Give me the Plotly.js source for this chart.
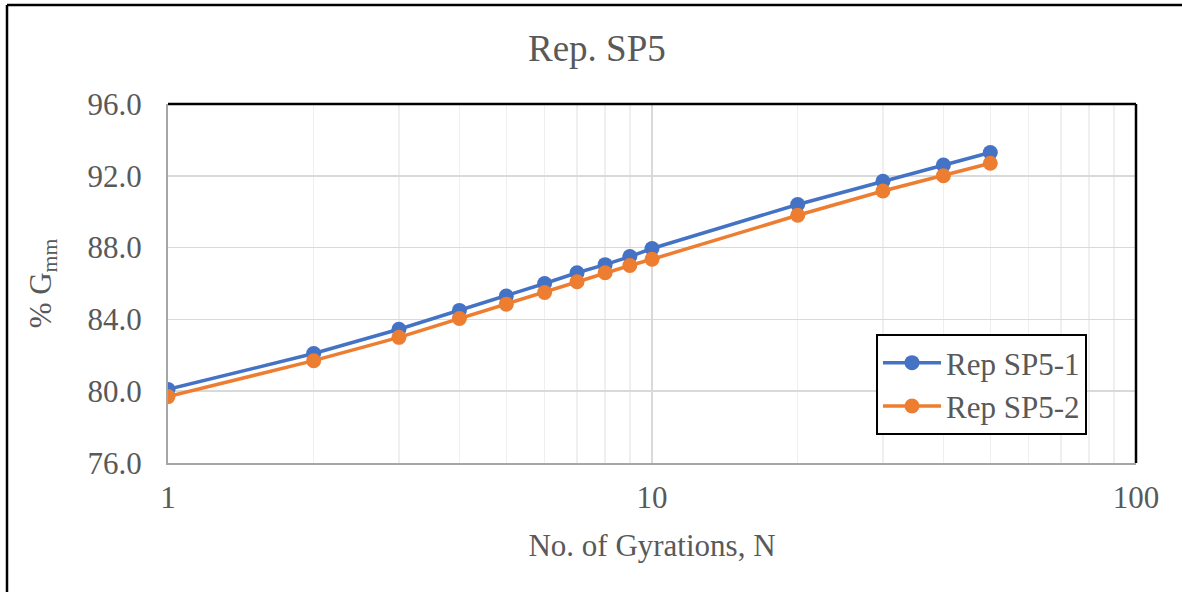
<!DOCTYPE html>
<html>
<head>
<meta charset="utf-8">
<script src="https://cdn.plot.ly/plotly-3.0.1.min.js"></script>
<style>html,body{margin:0;padding:0;background:#fff;}#chart{width:1182px;height:592px;}</style>
</head>
<body>
<div id="chart"></div>
<script>
const gyrations = [1, 2, 3, 4, 5, 6, 7, 8, 9, 10, 20, 30, 40, 50];
const repSP5_1 = [80.1, 82.1, 83.45, 84.5, 85.3, 86.0, 86.6, 87.05, 87.5, 87.95, 90.4, 91.7, 92.6, 93.3];
const repSP5_2 = [79.7, 81.7, 83.0, 84.05, 84.85, 85.5, 86.1, 86.6, 87.0, 87.35, 89.8, 91.15, 92.0, 92.7];
const seriesNames = ["Rep SP5-1", "Rep SP5-2"];
const xTickVals = [1, 10, 100];
const xTickText = ["1", "10", "100"];
const xMinorVals = [2,3,4,5,6,7,8,9,20,30,40,50,60,70,80,90];
const yTickVals = [76, 80, 84, 88, 92, 96];

const font = {family: "'Liberation Serif', 'Times New Roman', serif", color: "#595959", size: 31};
const L = 168, R = 1136, T = 104, B = 463, W = 1182, H = 592;
const px = x => (x - L) / (R - L);
const py = y => (B - y) / (B - T);

const traces = [
  {x: gyrations, y: repSP5_1, name: seriesNames[0], type: "scatter", mode: "lines+markers",
   line: {color: "#4472C4", width: 3.5}, marker: {color: "#4472C4", size: 15}},
  {x: gyrations, y: repSP5_2, name: seriesNames[1], type: "scatter", mode: "lines+markers",
   line: {color: "#ED7D31", width: 3.5}, marker: {color: "#ED7D31", size: 15}}
];

const layout = {
  width: W, height: H,
  margin: {l: L, r: W - R, t: T, b: H - B},
  paper_bgcolor: "#fff", plot_bgcolor: "#fff",
  font: font,
  showlegend: true,
  title: {text: "Rep. SP5", font: {family: font.family, color: "#595959", size: 37},
          xref: "container", x: 0.505, yref: "container", y: 1 - 48 / H, yanchor: "middle"},
  xaxis: {
    type: "log", range: [0, 2],
    tickvals: xTickVals, ticktext: xTickText,
    showgrid: true, gridcolor: "#d9d9d9", gridwidth: 1.5,
    minor: {tickvals: xMinorVals, showgrid: true, gridcolor: "#efefef", gridwidth: 1.5, ticks: ""},
    showline: true, linecolor: "#a6a6a6", linewidth: 2,
    ticks: "", zeroline: false,
    tickfont: font, ticklabelstandoff: 6,
    title: {text: "No. of Gyrations, N", font: font, standoff: 20},
    automargin: false
  },
  yaxis: {
    range: [76, 96], tickvals: yTickVals, tickformat: ".1f",
    showgrid: true, gridcolor: "#d9d9d9", gridwidth: 1.5,
    showline: true, linecolor: "#a6a6a6", linewidth: 2,
    ticks: "", zeroline: false,
    tickfont: font, ticklabelstandoff: 18,
    title: {text: "% G<sub>mm</sub>", font: font, standoff: 27},
    automargin: false
  },
  legend: {
    x: px(876), y: py(334), xanchor: "left", yanchor: "top",
    bgcolor: "#fff", bordercolor: "#000", borderwidth: 2,
    font: font, itemwidth: 58
  },
  shapes: [
    {type: "line", xref: "paper", yref: "paper", x0: 0, x1: 1, y0: 1, y1: 1, line: {color: "#000", width: 2.5}},
    {type: "line", xref: "paper", yref: "paper", x0: 1, x1: 1, y0: 0, y1: 1, line: {color: "#000", width: 2.5}},
    {type: "line", xref: "paper", yref: "paper", x0: px(7), x1: px(W), y0: py(5), y1: py(5), line: {color: "#000", width: 2.5}},
    {type: "line", xref: "paper", yref: "paper", x0: px(7), x1: px(7), y0: py(5), y1: py(H), line: {color: "#000", width: 2.5}}
  ]
};

Plotly.newPlot("chart", traces, layout, {displayModeBar: false, staticPlot: true});
</script>
</body>
</html>
